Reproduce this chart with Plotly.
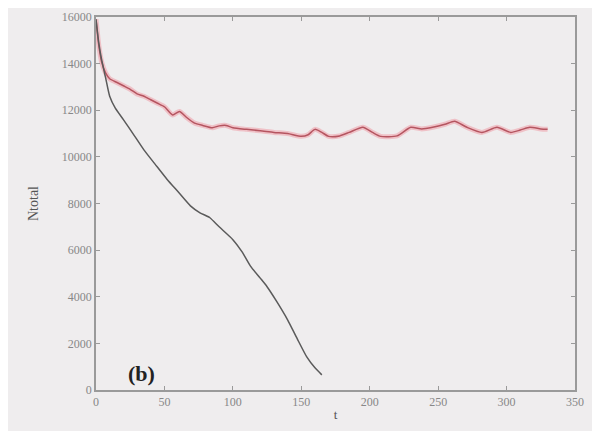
import plotly.graph_objects as go

# Red curve (upper)
t_red = [0, 2, 4, 7, 10, 15, 20, 25, 30, 35, 40, 45, 50, 56, 61, 66, 72, 78, 85, 90, 95,
         100, 110, 120, 130, 140, 150, 155, 160, 165, 170, 178, 185, 195, 202, 208, 220,
         230, 238, 246, 255, 262, 271, 282, 293, 303, 310, 317, 325, 330]
n_red = [15900, 14800, 14100, 13600, 13350, 13200, 13050, 12900, 12700, 12600, 12450, 12300,
         12150, 11800, 11950, 11700, 11450, 11350, 11250, 11330, 11350, 11250, 11180, 11120,
         11050, 11000, 10880, 10950, 11180, 11050, 10880, 10900, 11050, 11270, 11050, 10880,
         10900, 11270, 11200, 11270, 11400, 11530, 11270, 11050, 11270, 11050, 11150, 11270,
         11200, 11180]

# Black curve (lower)
t_black = [0, 2, 4, 7, 10, 14, 20, 27, 35, 43, 52, 60, 69, 76, 83, 90, 100, 107, 113, 120,
           125, 132, 140, 147, 154, 160, 165]
n_black = [15900, 14900, 14200, 13400, 12600, 12100, 11600, 11000, 10300, 9700, 9030, 8500,
           7900, 7600, 7400, 7000, 6450, 5900, 5300, 4800, 4430, 3800, 3010, 2200, 1420, 950, 650]

x_ticks = [0, 50, 100, 150, 200, 250, 300, 350]
y_ticks = [0, 2000, 4000, 6000, 8000, 10000, 12000, 14000, 16000]

fig = go.Figure()
fig.add_trace(go.Scatter(x=t_red, y=n_red, mode="lines",
                         line=dict(color="rgba(240,150,160,0.5)", width=5, shape="spline",
                                   smoothing=0.6), hoverinfo="skip"))
fig.add_trace(go.Scatter(x=t_red, y=n_red, mode="lines",
                         line=dict(color="#b55560", width=1.5, shape="spline", smoothing=0.6)))
fig.add_trace(go.Scatter(x=t_black, y=n_black, mode="lines",
                         line=dict(color="#5a5a5a", width=1.5, shape="spline", smoothing=0.6)))

fig.add_annotation(x=33, y=700, text="<b>(b)</b>", showarrow=False,
                   font=dict(family="Liberation Serif", size=22, color="#222"))

axis_common = dict(showline=True, linecolor="#9a9a9a", linewidth=1.5, mirror="ticks",
                   ticks="inside", ticklen=4, tickcolor="#9a9a9a", showgrid=False,
                   zeroline=False, automargin=False,
                   tickfont=dict(family="Liberation Serif", size=12, color="#888"))

fig.update_layout(
    width=600, height=431,
    margin=dict(l=88, r=33, t=9, b=49),
    paper_bgcolor="#efedee", plot_bgcolor="#efedee",
    showlegend=False,
    xaxis=dict(range=[0, 350], tickvals=x_ticks, ticktext=[str(v) for v in x_ticks],
               **axis_common,
               title=dict(text="t", font=dict(family="Liberation Serif", size=13, color="#555"),
                          standoff=2)),
    yaxis=dict(range=[0, 16000], tickvals=y_ticks, ticktext=[str(v) for v in y_ticks],
               **axis_common,
               title=dict(text="Ntotal", font=dict(family="Liberation Serif", size=14, color="#555"),
                          standoff=20)),
)

fig.write_html("out.html")
